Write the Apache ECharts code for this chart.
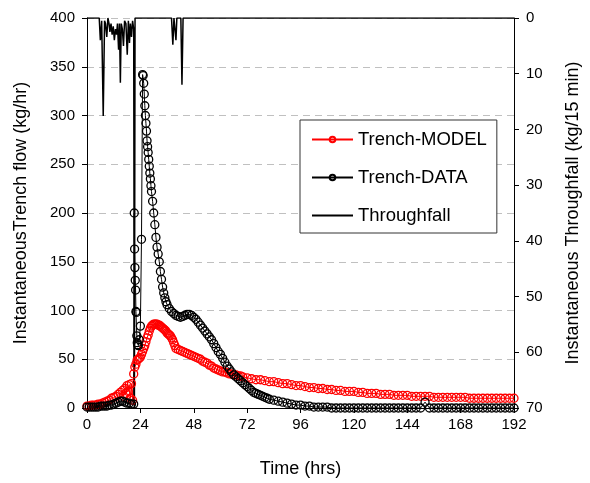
<!DOCTYPE html>
<html>
<head>
<meta charset="utf-8">
<script src="https://cdn.jsdelivr.net/npm/echarts@6/dist/echarts.min.js"></script>
<style>
  html, body { margin: 0; padding: 0; background: #fff; }
  #chart { width: 590px; height: 483px; }
</style>
</head>
<body>
<div id="chart"></div>
<script>
// Trench-MODEL: [hour, kg/hr]
const trenchModel = [
  [0,2],[1,2],[2,3],[3,3],[4,3],[5,4],[6,4],[7,5],[8,6],[9,7],[10,8],[11,10],[12,11],[13,12],
  [14,14],[15,16],[16,18],[16.5,12],[17,20],[17.5,15],[18,23],[18.5,17],[19,24],[19.5,10],
  [20,25],[20.5,8],[21,35],[21.5,42],[22,45],[22.5,49],[23,50],[23.5,51],[24,52],[24.5,55],
  [25,58],[25.5,61],[26,64],[26.5,68],[27,72],[27.5,75],[28,79],[28.5,82],[29,84],[29.5,85],
  [30,86],[30.5,86],[31,86],[31.5,86],[32,85],[32.5,85],[33,84],[33.5,83],[34,82],[34.5,81],
  [35,80],[35.5,79],[36,77],[36.5,76],[37,75],[37.5,74],[38,72],[38.5,70],[39,67],[39.5,64],
  [40,61],[41,60],[42,59],[43,58],[44,57],[45,56],[46,55],[47,54],[48,53],[49,52],[50,51],
  [51,50],[52,48],[53,47],[54,46],[55,44],[56,43],[57,41],[58,40],[59,39],[60,38],[61,37],
  [62,37],[63,36],[64,35],[65,35],[66,34],[67,34],[68,33],[69,33],[70,32],[72,31],[74,30],
  [76,29],[78,29],[80,28],[82,27],[84,27],[86,26],[88,25],[90,25],[92,24],[94,23],[96,23],
  [98,22],[100,21],[102,21],[104,20],[106,20],[108,19],[110,19],[112,18],[114,18],[116,17],
  [118,17],[120,17],[122,16],[124,16],[126,15],[128,15],[130,15],[132,14],[134,14],[136,14],
  [138,13],[140,13],[142,13],[144,13],[146,12],[148,12],[150,12],[152,12],[154,12],[156,11],
  [158,11],[160,11],[162,11],[164,11],[166,11],[168,11],[170,11],[172,10],[174,10],[176,10],
  [178,10],[180,10],[182,10],[184,10],[186,10],[188,10],[190,10],[192,10]
];

// Trench-DATA: [hour, kg/hr]
const trenchData = [
  [0,1],[1,1],[2,1],[3,1],[4,1],[5,1],[6,2],[7,2],[8,2],[9,2],[10,3],[11,3],[12,4],[13,5],
  [14,6],[15,7],[16,7],[17,6],[18,5],[19,5],[20,4],[21,4],[21.25,200],[21.4,163],[21.55,144],
  [21.7,131],[21.85,121],[22,99],[22.2,98],[22.4,74],[22.6,67],[22.8,65],[23.1,64],[23.5,70],
  [24,84],[24.5,173],[25,342],[25.25,341],[25.5,333],[25.75,322],[26,310],[26.25,300],
  [26.5,292],[26.75,284],[27,274],[27.25,268],[27.5,262],[27.75,255],[28,248],[28.25,241],
  [28.5,235],[28.75,228],[29,222],[29.5,212],[30,200],[30.5,188],[31,175],[31.5,165],
  [32,158],[32.5,150],[33,140],[33.5,132],[34,124],[34.5,118],[35,113],[35.5,109],[36,106],
  [37,102],[38,99],[39,97],[40,95],[41,94],[42,93],[43,94],[44,95],[45,96],[46,96],[47,95],
  [48,93],[49,91],[50,88],[51,85],[52,82],[53,79],[54,76],[55,73],[56,70],[57,66],[58,62],
  [59,58],[60,55],[61,51],[62,47],[63,43],[64,40],[65,37],[66,34],[67,32],[68,30],[69,28],
  [70,26],[71,24],[72,22],[73,20],[74,18],[75,16],[76,15],[77,14],[78,13],[79,12],[80,11],
  [81,10],[82,9],[84,8],[86,7],[88,6],[90,5],[92,4],[94,3],[96,3],[98,2],[100,2],[102,1],
  [104,1],[106,1],[108,1],[110,0],[112,0],[114,0],[116,0],[118,0],[120,0],[122,0],[124,0],
  [126,0],[128,0],[130,0],[132,0],[134,0],[136,0],[138,0],[140,0],[142,0],[144,0],[146,0],
  [148,0],[150,0],[152,6],[154,0],[156,0],[158,0],[160,0],[162,0],[164,0],[166,0],[168,0],
  [170,0],[172,0],[174,0],[176,0],[178,0],[180,0],[182,0],[184,0],[186,0],[188,0],[190,0],
  [192,0]
];

// Throughfall: [hour, kg/15 min] on the inverted right axis
const throughfall = [
  [0,0],[5.5,0],[6,4],[6.6,0.5],[7.3,17.6],[7.9,0.5],[8.3,1],[8.9,3.4],[9.4,0],[9.9,1],
  [10.3,2.5],[10.8,1],[11.3,3],[11.8,1.5],[12.3,4],[12.8,2],[13.3,3],[13.7,1],[14.2,5.7],
  [14.6,1],[15,11.6],[15.4,1],[15.9,2],[16.4,5],[16.9,0.5],[17.5,1],[18.1,6.6],[18.6,0.5],
  [19.1,4.5],[19.5,1],[20,3.4],[20.5,0.5],[21,2],[21.3,72],[21.6,0],[38,0],[38.6,4.8],
  [39.1,0],[39.5,0],[40,4],[40.4,0],[42.2,0],[42.7,12],[43.2,0],[192,0]
];

const seriesNames = ["Trench-MODEL", "Trench-DATA", "Throughfall"];

const font = "Liberation Sans, Arial, sans-serif";
const chart = echarts.init(document.getElementById("chart"));

const tickText = { color: "#000", fontFamily: font, fontSize: 15 };
const titleText = { color: "#000", fontFamily: font, fontSize: 18 };

chart.setOption({
  animation: false,
  textStyle: { fontFamily: font },
  grid: { left: 87, right: 71, top: 18, bottom: 72 },
  legend: {
    orient: "vertical",
    left: 300,
    top: 120,
    padding: [10, 10, 8, 11],
    itemGap: 19,
    itemWidth: 41,
    itemHeight: 7,
    backgroundColor: "#fff",
    borderColor: "#333",
    borderWidth: 1,
    borderRadius: 0,
    textStyle: { color: "#000", fontFamily: font, fontSize: 18.5 },
    data: [
      seriesNames[0],
      seriesNames[1],
      { name: seriesNames[2], itemStyle: { color: "rgba(0,0,0,0)", borderWidth: 0 } },
    ],
  },
  xAxis: {
    type: "value",
    min: 0,
    max: 192,
    interval: 24,
    name: "Time (hrs)",
    nameLocation: "middle",
    nameGap: 52,
    nameTextStyle: titleText,
    axisLine: { lineStyle: { color: "#000" } },
    axisTick: { lineStyle: { color: "#000" }, length: 5 },
    axisLabel: { ...tickText, margin: 9 },
    splitLine: { show: false },
  },
  yAxis: [
    {
      type: "value",
      min: 0,
      max: 400,
      interval: 50,
      name: "InstantaneousTrench flow (kg/hr)",
      nameLocation: "middle",
      nameRotate: 90,
      nameGap: 57,
      nameTextStyle: titleText,
      axisLine: { show: true, lineStyle: { color: "#000" } },
      axisTick: { show: true, lineStyle: { color: "#000" }, length: 5 },
      axisLabel: { ...tickText, margin: 12 },
      splitLine: {
        show: true,
        lineStyle: { color: "#c0c0c0", type: [7, 5], width: 1 },
      },
    },
    {
      type: "value",
      min: 0,
      max: 70,
      interval: 10,
      inverse: true,
      position: "right",
      name: "Instantaneous Throughfall (kg/15 min)",
      nameLocation: "middle",
      nameRotate: 90,
      nameGap: 50,
      nameTextStyle: titleText,
      axisLine: { show: true, lineStyle: { color: "#000" } },
      axisTick: { show: true, lineStyle: { color: "#000" }, length: 5 },
      axisLabel: { ...tickText, margin: 12 },
      splitLine: { show: false },
    },
  ],
  series: [
    {
      name: "Trench-MODEL",
      type: "line",
      data: trenchModel,
      symbol: "circle",
      symbolSize: 8,
      showAllSymbol: true,
      color: "#ff0000",
      lineStyle: { color: "#ff0000", width: 1 },
      itemStyle: { color: "rgba(255,255,255,0)", borderColor: "#ff0000", borderWidth: 1.3 },
    },
    {
      name: "Trench-DATA",
      type: "line",
      data: trenchData,
      symbol: "circle",
      symbolSize: 8,
      showAllSymbol: true,
      color: "#000",
      lineStyle: { color: "#000", width: 1 },
      itemStyle: { color: "rgba(255,255,255,0)", borderColor: "#000", borderWidth: 1.3 },
    },
    {
      name: "Throughfall",
      type: "line",
      yAxisIndex: 1,
      data: throughfall,
      symbol: "none",
      color: "#000",
      lineStyle: { color: "#000", width: 1.5 },
    },
  ],
});
</script>
</body>
</html>
